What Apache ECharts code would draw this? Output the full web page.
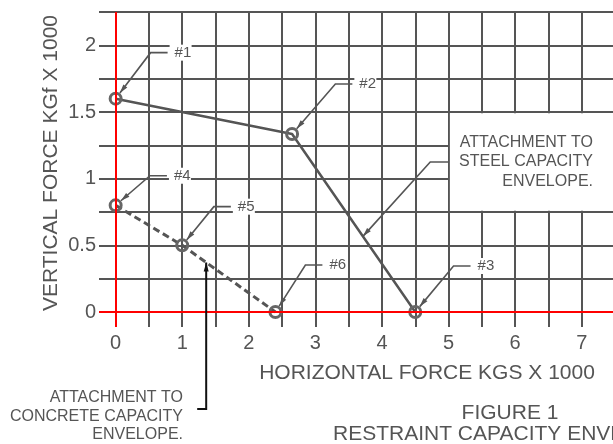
<!DOCTYPE html>
<html><head><meta charset="utf-8">
<script src="https://cdn.jsdelivr.net/npm/echarts@6/dist/echarts.min.js"></script>
<style>html,body{margin:0;padding:0;background:#fff}#c{width:613px;height:444px}</style>
</head><body><div id="c"></div>
<script>
// ---- data ----
const xGridTicks = [0,0.5,1,1.5,2,2.5,3,3.5,4,4.5,5,5.5,6,6.5,7,7.5];
const yGridTicks = [0,0.25,0.5,0.75,1,1.25,1.5,1.75,2,2.25];
const xTickLabels = [0,1,2,3,4,5,6,7];
const yTickLabels = [0,0.5,1,1.5,2];
const steelX = [0,2.65,4.5];
const steelY = [1.6,1.335,0];
const steelLabels = ['#1','#2','#3'];
const concreteX = [0,1,2.4];
const concreteY = [0.8,0.5,0];
const concreteLabels = ['#4','#5','#6'];
const xTitle = 'HORIZONTAL FORCE KGS X 1000';
const yTitle = 'VERTICAL FORCE KGf X 1000';
const steelNote = ['ATTACHMENT TO','STEEL CAPACITY','ENVELOPE.'];
const concreteNote = ['ATTACHMENT TO','CONCRETE CAPACITY','ENVELOPE.'];
const figTitle = ['FIGURE 1','RESTRAINT CAPACITY ENVELOPE.'];

// ---- layout / style ----
const FONT = '"Liberation Sans", Arial, Helvetica, sans-serif';
const GRID = '#555';
const INK = '#555';
// callout elbow positions (data space) for #1..#6
const elbows = [[0.525,1.945],[3.3,1.71],[5.075,0.345],[0.515,1.022],[1.475,0.79],[2.85,0.352]];

const chart = echarts.init(document.getElementById('c'), null, {renderer:'canvas', width:613, height:444});
const steelData = steelX.map((x,i)=>[x, steelY[i]]);
const concreteData = concreteX.map((x,i)=>[x, concreteY[i]]);
const markerStyle = {color:'rgba(0,0,0,0)', borderColor:'#666', borderWidth:3};

chart.setOption({
  animation:false,
  backgroundColor:'#fff',
  grid:{left:99, top:12, width:516, height:315, containLabel:false, outerBoundsMode:'none'},
  xAxis:{type:'value', min:-0.25, max:7.5,
    axisLine:{show:false}, axisTick:{show:false, customValues:xGridTicks},
    splitLine:{show:true, lineStyle:{color:GRID, width:2}},
    axisLabel:{customValues:xTickLabels, fontSize:20, color:INK, margin:6, fontFamily:FONT}},
  yAxis:{type:'value', min:-0.1125, max:2.25,
    axisLine:{show:false}, axisTick:{show:false, customValues:yGridTicks},
    splitLine:{show:true, lineStyle:{color:GRID, width:2}},
    axisLabel:{customValues:yTickLabels, fontSize:20, color:INK, margin:3, fontFamily:FONT}},
  series:[
    {type:'line', name:'axes', data:[], z:1, silent:true,
      markLine:{silent:true, symbol:'none', label:{show:false}, animation:false,
        lineStyle:{color:'#ff0000', width:2, type:'solid'},
        data:[{xAxis:0},{yAxis:0}]}},
    {type:'line', name:'Steel capacity', data:steelData, z:3,
      lineStyle:{color:'#555', width:2.5}, symbol:'circle', symbolSize:11, itemStyle:markerStyle},
    {type:'line', name:'Concrete capacity', data:concreteData, z:3,
      lineStyle:{color:'#555', width:3, type:[7,4]}, symbol:'circle', symbolSize:11, itemStyle:markerStyle}
  ]
});

function px(p){ return chart.convertToPixel({gridIndex:0}, p); }
function arrowHead(tip, from, L, W, color){
  const dx = from[0]-tip[0], dy = from[1]-tip[1];
  const d = Math.hypot(dx,dy); const ux = dx/d, uy = dy/d;
  const bx = tip[0]+ux*L, by = tip[1]+uy*L;
  return {type:'polygon', z:20, shape:{points:[[tip[0],tip[1]],[bx-uy*W/2, by+ux*W/2],[bx+uy*W/2, by-ux*W/2]]}, style:{fill:color}};
}
const g = [];
const allPts = steelData.concat(concreteData);
const allLabels = steelLabels.concat(concreteLabels);
allPts.forEach((p,i)=>{
  const P = px(p), E = px(elbows[i]);
  const dx = E[0]-P[0], dy = E[1]-P[1], d = Math.hypot(dx,dy);
  const tip = [P[0]+dx/d*7, P[1]+dy/d*7];
  g.push({type:'polyline', z:20, shape:{points:[tip, E, [E[0]+17, E[1]]]}, style:{stroke:'#555', lineWidth:1.6, fill:null}});
  g.push(arrowHead(tip, E, 9, 5, '#555'));
  g.push({type:'rect', z:19, shape:{x:E[0]+19, y:E[1]-8, width:22, height:16}, style:{fill:'#fff'}});
  g.push({type:'text', z:21, x:E[0]+24, y:E[1], style:{text:allLabels[i], fontSize:15, fontFamily:FONT, fill:INK, align:'left', verticalAlign:'middle'}});
});
// steel note box
const b1 = px([5.02,1.49]), b2 = px([7.6,0.76]);
g.push({type:'rect', z:15, shape:{x:b1[0], y:b1[1], width:b2[0]-b1[0], height:b2[1]-b1[1]}, style:{fill:'#fff'}});
g.push({type:'text', z:21, x:593, y:162, style:{text:steelNote.join('\n'), fontSize:16, lineHeight:19.5, fontFamily:FONT, fill:INK, align:'right', verticalAlign:'middle'}});
// steel leader
const sEdge = px([5,1.125]), sElbow = px([4.725,1.125]);
const sTipD = [steelX[1]+0.575*(steelX[2]-steelX[1]), steelY[1]+0.575*(steelY[2]-steelY[1])];
const sTip = px(sTipD);
g.push({type:'polyline', z:20, shape:{points:[sEdge, sElbow, sTip]}, style:{stroke:'#555', lineWidth:1.6, fill:null}});
g.push(arrowHead(sTip, sElbow, 9, 5, '#555'));
// concrete leader
const cfrac = (1.36-concreteX[1])/(concreteX[2]-concreteX[1]);
const cTip = px([1.36, concreteY[1]+cfrac*(concreteY[2]-concreteY[1])]);
const cCorner = [cTip[0], 409], cEnd = [cTip[0]-9, 409];
g.push({type:'polyline', z:20, shape:{points:[cTip, cCorner, cEnd]}, style:{stroke:'#111', lineWidth:2, fill:null}});
g.push(arrowHead(cTip, cCorner, 9, 5, '#111'));
g.push({type:'text', z:21, x:183, y:416.5, style:{text:concreteNote.join('\n'), fontSize:16, lineHeight:18.5, fontFamily:FONT, fill:INK, align:'right', verticalAlign:'middle'}});
// titles
g.push({type:'text', z:21, x:51, y:163, rotation:Math.PI/2, style:{text:yTitle, fontSize:21, fontFamily:FONT, fill:INK, align:'center', verticalAlign:'middle'}});
g.push({type:'text', z:21, x:427, y:373, style:{text:xTitle, fontSize:21, fontFamily:FONT, fill:INK, align:'center', verticalAlign:'middle'}});
g.push({type:'text', z:21, x:510, y:413, style:{text:figTitle[0], fontSize:21, fontFamily:FONT, fill:INK, align:'center', verticalAlign:'middle'}});
g.push({type:'text', z:21, x:333, y:434.5, style:{text:figTitle[1], fontSize:21, fontFamily:FONT, fill:INK, align:'left', verticalAlign:'middle'}});
chart.setOption({graphic:{elements:g}});
</script></body></html>
